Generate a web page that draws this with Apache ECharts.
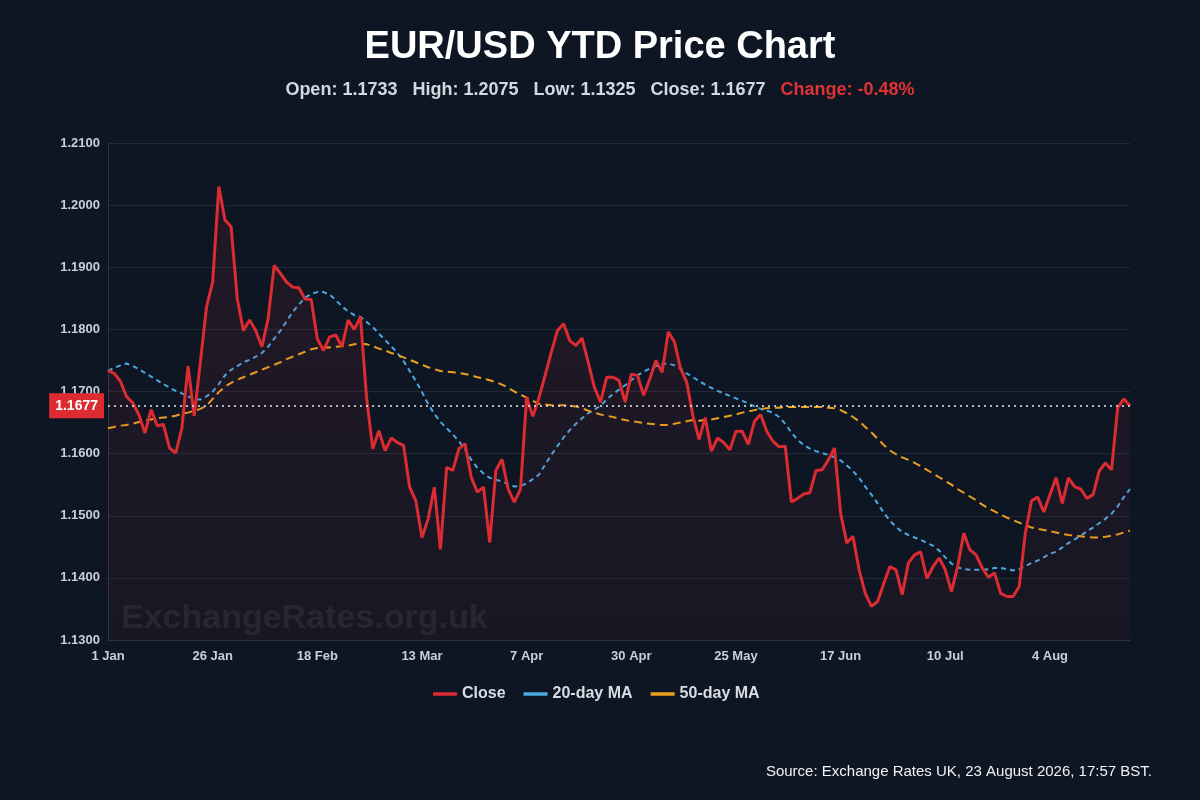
<!DOCTYPE html>
<html>
<head>
<meta charset="utf-8">
<title>EUR/USD YTD Price Chart</title>
<script src="https://cdn.jsdelivr.net/npm/echarts@6/dist/echarts.min.js"></script>
<style>
  html, body { margin: 0; padding: 0; background: #0e1623; }
  #main { width: 1200px; height: 800px; }
</style>
</head>
<body>
<div id="main"></div>
<script type="text/javascript">
// trading days (weekdays) from 1 Jan 2026
var startDate = '2026-01-01';
var dayCount = 167;
var monthNames = ['Jan', 'Feb', 'Mar', 'Apr', 'May', 'Jun', 'Jul', 'Aug', 'Sep', 'Oct', 'Nov', 'Dec'];

var closeValues = [
    1.1734, 1.1729, 1.1717, 1.1692, 1.1682, 1.1663, 1.1633, 1.1671, 1.1645, 1.1647,
    1.1609, 1.1601, 1.1641, 1.1741, 1.1661, 1.1747, 1.1836, 1.1876, 1.2030, 1.1976,
    1.1965, 1.1849, 1.1798, 1.1815, 1.1798, 1.1772, 1.1817, 1.1903, 1.1890, 1.1876,
    1.1868, 1.1867, 1.1849, 1.1848, 1.1785, 1.1766, 1.1788, 1.1791, 1.1772, 1.1815,
    1.1800, 1.1820, 1.1690, 1.1608, 1.1637, 1.1605, 1.1625, 1.1618, 1.1613, 1.1546,
    1.1524, 1.1465, 1.1495, 1.1546, 1.1446, 1.1578, 1.1573, 1.1608, 1.1616, 1.1562,
    1.1538, 1.1546, 1.1457, 1.1573, 1.1591, 1.1543, 1.1522, 1.1543, 1.1691, 1.1660,
    1.1690, 1.1726, 1.1763, 1.1798, 1.1809, 1.1782, 1.1774, 1.1786, 1.1747, 1.1707,
    1.1683, 1.1723, 1.1723, 1.1718, 1.1683, 1.1728, 1.1726, 1.1694, 1.1720, 1.1750,
    1.1731, 1.1796, 1.1780, 1.1737, 1.1715, 1.1661, 1.1623, 1.1658, 1.1604, 1.1625,
    1.1618, 1.1606, 1.1636, 1.1636, 1.1615, 1.1652, 1.1663, 1.1636, 1.1620, 1.1611,
    1.1612, 1.1522, 1.1528, 1.1535, 1.1537, 1.1573, 1.1574, 1.1590, 1.1609, 1.1504,
    1.1456, 1.1467, 1.1413, 1.1375, 1.1354, 1.1362, 1.1391, 1.1418, 1.1413, 1.1373,
    1.1424, 1.1437, 1.1442, 1.1399, 1.1418, 1.1432, 1.1413, 1.1378, 1.1418, 1.1472,
    1.1445, 1.1437, 1.1416, 1.1401, 1.1408, 1.1375, 1.1370, 1.1370, 1.1386, 1.1472,
    1.1524, 1.1530, 1.1506, 1.1534, 1.1561, 1.1520, 1.1561, 1.1547, 1.1543, 1.1528,
    1.1534, 1.1572, 1.1585, 1.1574, 1.1674, 1.1688, 1.1677
];

var ma20Values = [
    1.1733, 1.1738, 1.1742, 1.1745, 1.1741, 1.1736, 1.1730, 1.1724, 1.1718, 1.1712,
    1.1706, 1.1701, 1.1697, 1.1692, 1.1688, 1.1687, 1.1692, 1.1700, 1.1712, 1.1726,
    1.1735, 1.1741, 1.1747, 1.1751, 1.1756, 1.1762, 1.1772, 1.1785, 1.1798, 1.1813,
    1.1828, 1.1840, 1.1851, 1.1857, 1.1860, 1.1860, 1.1856, 1.1847, 1.1837, 1.1829,
    1.1823, 1.1820, 1.1812, 1.1804, 1.1793, 1.1783, 1.1773, 1.1762, 1.1749, 1.1733,
    1.1717, 1.1699, 1.1680, 1.1664, 1.1651, 1.1641, 1.1631, 1.1620, 1.1607, 1.1590,
    1.1577, 1.1568, 1.1561, 1.1558, 1.1555, 1.1551, 1.1547, 1.1548, 1.1552, 1.1559,
    1.1566, 1.1582, 1.1598, 1.1612, 1.1626, 1.1638, 1.1648, 1.1657, 1.1665, 1.1671,
    1.1677, 1.1687, 1.1696, 1.1703, 1.1710, 1.1718, 1.1726, 1.1732, 1.1737, 1.1741,
    1.1744, 1.1745, 1.1742, 1.1737, 1.1729, 1.1723, 1.1717, 1.1711, 1.1706, 1.1701,
    1.1697, 1.1693, 1.1689, 1.1685, 1.1681, 1.1676, 1.1672, 1.1669, 1.1666, 1.1659,
    1.1648, 1.1634, 1.1622, 1.1614, 1.1608, 1.1604, 1.1601, 1.1598, 1.1594, 1.1589,
    1.1581, 1.1572, 1.1561, 1.1547, 1.1534, 1.1520, 1.1505, 1.1492, 1.1482, 1.1474,
    1.1469, 1.1465, 1.1461, 1.1456, 1.1452, 1.1444, 1.1433, 1.1423, 1.1417, 1.1414,
    1.1413, 1.1413, 1.1413, 1.1414, 1.1416, 1.1416, 1.1414, 1.1412, 1.1414, 1.1419,
    1.1424, 1.1428, 1.1433, 1.1439, 1.1442, 1.1449, 1.1456, 1.1462, 1.1468, 1.1475,
    1.1481, 1.1488, 1.1495, 1.1503, 1.1515, 1.1530, 1.1543
];

var ma50Values = [
    1.1641, 1.1643, 1.1645, 1.1646, 1.1648, 1.1651, 1.1653, 1.1655, 1.1657, 1.1658,
    1.1659, 1.1661, 1.1664, 1.1666, 1.1669, 1.1672, 1.1677, 1.1688, 1.1699, 1.1708,
    1.1714, 1.1719, 1.1723, 1.1727, 1.1731, 1.1735, 1.1739, 1.1743, 1.1747, 1.1752,
    1.1756, 1.1760, 1.1764, 1.1768, 1.1770, 1.1771, 1.1771, 1.1772, 1.1773, 1.1774,
    1.1776, 1.1777, 1.1776, 1.1773, 1.1769, 1.1766, 1.1762, 1.1759, 1.1755, 1.1751,
    1.1747, 1.1743, 1.1739, 1.1736, 1.1733, 1.1732, 1.1731, 1.1730, 1.1728, 1.1726,
    1.1723, 1.1721, 1.1718, 1.1715, 1.1711, 1.1706, 1.1700, 1.1695, 1.1690, 1.1685,
    1.1680, 1.1679, 1.1678, 1.1678, 1.1678, 1.1677, 1.1676, 1.1673, 1.1669, 1.1666,
    1.1663, 1.1661, 1.1659, 1.1656, 1.1654, 1.1652, 1.1651, 1.1649, 1.1648, 1.1647,
    1.1646, 1.1646, 1.1648, 1.1650, 1.1652, 1.1654, 1.1653, 1.1654, 1.1655, 1.1657,
    1.1659, 1.1661, 1.1663, 1.1666, 1.1668, 1.1670, 1.1672, 1.1673, 1.1674, 1.1674,
    1.1675, 1.1675, 1.1675, 1.1675, 1.1675, 1.1675, 1.1675, 1.1674, 1.1673, 1.1670,
    1.1665, 1.1659, 1.1652, 1.1643, 1.1634, 1.1624, 1.1614, 1.1605, 1.1599, 1.1594,
    1.1590, 1.1585, 1.1580, 1.1574, 1.1568, 1.1562, 1.1556, 1.1550, 1.1543, 1.1537,
    1.1531, 1.1525, 1.1518, 1.1512, 1.1507, 1.1502, 1.1497, 1.1493, 1.1489, 1.1485,
    1.1481, 1.1479, 1.1477, 1.1475, 1.1473, 1.1471, 1.1469, 1.1468, 1.1467, 1.1466,
    1.1465, 1.1465, 1.1466, 1.1468, 1.1470, 1.1473, 1.1476
];

var lastClose = 1.1677;
var statsText = { open: '1.1733', high: '1.2075', low: '1.1325', close: '1.1677', change: '-0.48%' };

// build the weekday category labels
var dates = [];
var d = new Date(startDate + 'T12:00:00');
while (dates.length < dayCount) {
    var wd = d.getDay();
    if (wd !== 0 && wd !== 6) {
        dates.push(d.getDate() + ' ' + monthNames[d.getMonth()]);
    }
    d.setDate(d.getDate() + 1);
}

var fontFamily = '"Liberation Sans", Arial, Helvetica, sans-serif';
var myChart = echarts.init(document.getElementById('main'));

var option = {
    animation: false,
    backgroundColor: '#0e1623',
    textStyle: { fontFamily: fontFamily },
    title: {
        text: 'EUR/USD YTD Price Chart',
        left: 'center',
        top: 24,
        textStyle: { color: '#ffffff', fontSize: 38, fontWeight: 'bold', fontFamily: fontFamily }
    },
    graphic: [
        {
            type: 'text',
            left: 'center',
            top: 81,
            style: {
                text: '{s|Open: ' + statsText.open + '}   {s|High: ' + statsText.high + '}   {s|Low: ' + statsText.low +
                      '}   {s|Close: ' + statsText.close + '}   {c|Change: ' + statsText.change + '}',
                rich: {
                    s: { fill: '#d3d8e0', fontSize: 18, fontWeight: 'bold', fontFamily: fontFamily },
                    c: { fill: '#e03434', fontSize: 18, fontWeight: 'bold', fontFamily: fontFamily }
                },
                fill: '#d3d8e0',
                fontSize: 18,
                fontWeight: 'bold',
                fontFamily: fontFamily
            }
        },
        {
            type: 'text',
            left: 121,
            top: 602,
            z: 1,
            style: {
                text: 'ExchangeRates.org.uk',
                fill: 'rgba(255,255,255,0.07)',
                fontSize: 34,
                fontWeight: 'bold',
                fontFamily: fontFamily
            }
        },
        {
            type: 'text',
            right: 48,
            top: 764,
            style: {
                text: 'Source: Exchange Rates UK, 23 August 2026, 17:57 BST.',
                fill: '#f0f2f5',
                fontSize: 15,
                fontFamily: fontFamily
            }
        }
    ],
    legend: {
        top: 681,
        left: 428,
        itemWidth: 24,
        itemHeight: 10,
        itemGap: 18,
        icon: 'path://M0,3.5 L24,3.5 L24,7 L0,7 Z',
        textStyle: { color: '#d8dce4', fontSize: 16, fontWeight: 'bold', fontFamily: fontFamily },
        data: ['Close', '20-day MA', '50-day MA']
    },
    grid: {
        left: 108,
        right: 70,
        top: 143,
        bottom: 160
    },
    xAxis: {
        type: 'category',
        boundaryGap: false,
        data: dates,
        axisLine: { show: true, lineStyle: { color: '#2a3445', width: 1 } },
        axisTick: { show: false },
        axisLabel: {
            interval: 16,
            color: '#c9ced8',
            fontSize: 13,
            fontWeight: 'bold',
            margin: 10
        },
        splitLine: { show: false }
    },
    yAxis: {
        type: 'value',
        min: 1.13,
        max: 1.21,
        interval: 0.01,
        axisLine: { show: true, lineStyle: { color: '#2a3445', width: 1 } },
        axisTick: { show: false },
        axisLabel: {
            color: '#c9ced8',
            fontSize: 13,
            fontWeight: 'bold',
            margin: 8,
            formatter: function (value) {
                return value.toFixed(4);
            }
        },
        splitLine: { show: true, lineStyle: { color: '#1f2938', width: 1 } }
    },
    series: [
        {
            name: 'Close',
            type: 'line',
            data: closeValues,
            symbol: 'none',
            z: 4,
            lineStyle: { color: '#dc2c32', width: 3 },
            itemStyle: { color: '#dc2c32' },
            areaStyle: {
                origin: 'start',
                color: new echarts.graphic.LinearGradient(0, 0, 0, 1, [
                    { offset: 0, color: 'rgba(200,40,55,0.16)' },
                    { offset: 1, color: 'rgba(200,40,55,0.07)' }
                ])
            },
            markLine: {
                silent: true,
                symbol: 'none',
                precision: 4,
                lineStyle: { color: '#e8ebef', type: [2, 4], width: 1.5 },
                label: {
                    show: true,
                    position: 'start',
                    distance: 4,
                    formatter: lastClose.toFixed(4),
                    backgroundColor: '#dc2c32',
                    color: '#ffffff',
                    fontSize: 14,
                    fontWeight: 'bold',
                    padding: [6, 6, 5, 6]
                },
                data: [{ yAxis: lastClose }]
            }
        },
        {
            name: '20-day MA',
            type: 'line',
            data: ma20Values,
            symbol: 'none',
            z: 3,
            lineStyle: { color: '#4aa9e2', width: 2, type: [5, 4] },
            itemStyle: { color: '#4aa9e2' }
        },
        {
            name: '50-day MA',
            type: 'line',
            data: ma50Values,
            symbol: 'none',
            z: 3,
            lineStyle: { color: '#eaa21e', width: 2, type: [8, 5] },
            itemStyle: { color: '#eaa21e' }
        }
    ]
};

myChart.setOption(option);
</script>
</body>
</html>
